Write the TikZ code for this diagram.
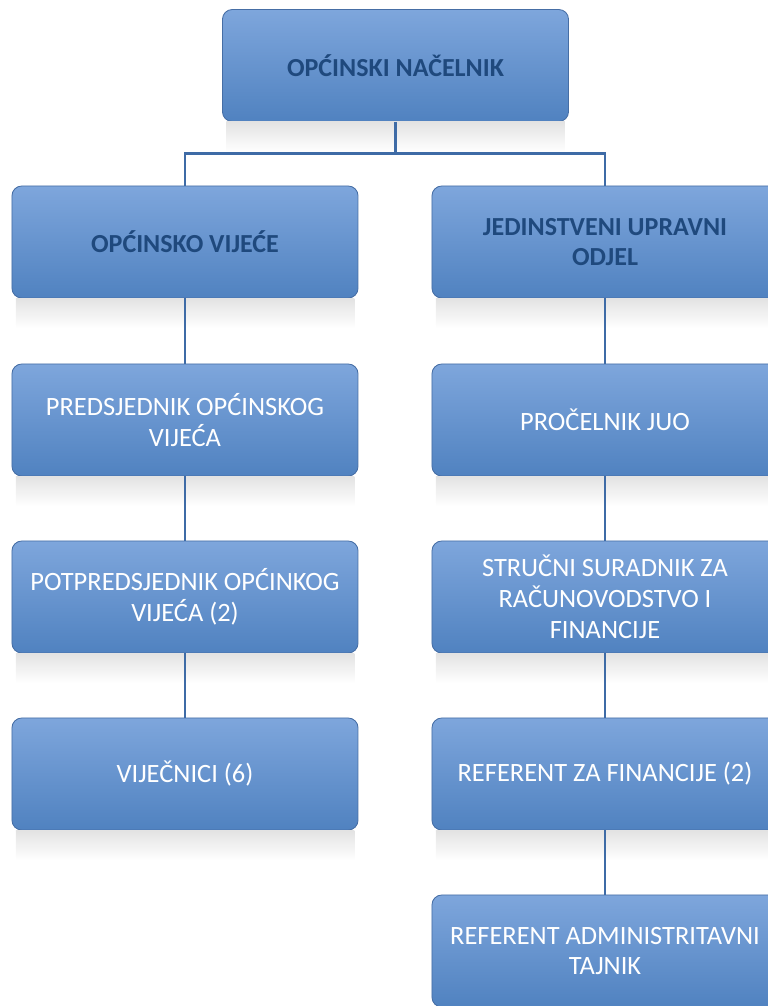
\documentclass[tikz,border=0pt]{standalone}
\usepackage{fontspec}
\setmainfont{Carlito}
\usepackage{tikz}
\usetikzlibrary{positioning, calc, shadows}
\usepackage{xcolor}

\definecolor{boxtop}{RGB}{126,166,220}
\definecolor{boxbot}{RGB}{80,130,192}
\definecolor{boxedge}{RGB}{70,110,165}
\definecolor{linkblue}{RGB}{62,107,166}
\definecolor{headtext}{RGB}{31,73,125}

\begin{document}
\begin{tikzpicture}[
  x=0.025cm, y=-0.025cm,
  unit/.style={rectangle, rounded corners=7pt, draw=boxedge, line width=0.6pt,
               top color=boxtop, bottom color=boxbot,
               minimum width=8.65cm, minimum height=2.8cm,
               align=center, font=\fontsize{18.8}{22}\selectfont, text=white},
  head/.style={unit, font=\fontsize{18.5}{21.5}\selectfont\bfseries, text=headtext},
  link/.style={draw=linkblue, line width=2.1pt},
  mirror/.style={top color=black!11, bottom color=white, draw=none}
]
  \def\xL{185} \def\xR{605}
  \useasboundingbox (0,0) rectangle (768,1006);
  \clip (0,0) rectangle (768,1006);

  %--- boxes ---
  \node[head] (nacelnik) at (395.5,65.5) {OPĆINSKI NAČELNIK};

  \node[head] (vijece) at (\xL,242) {OPĆINSKO VIJEĆE};
  \node[unit] (predsj) at (\xL,420) {PREDSJEDNIK OPĆINSKOG\\VIJEĆA};
  \node[unit] (potpred) at (\xL,597) {POTPREDSJEDNIK OPĆINKOG\\VIJEĆA (2)};
  \node[unit] (vijecnici) at (\xL,774) {VIJEČNICI (6)};

  \node[head] (juo) at (\xR,242) {JEDINSTVENI UPRAVNI\\ODJEL};
  \node[unit] (procelnik) at (\xR,420) {PROČELNIK JUO};
  \node[unit] (suradnik) at (\xR,597) {STRUČNI SURADNIK ZA\\RAČUNOVODSTVO I\\FINANCIJE};
  \node[unit] (reffin) at (\xR,774) {REFERENT ZA FINANCIJE (2)};
  \node[unit] (refadm) at (\xR,951) {REFERENT ADMINISTRITAVNI\\TAJNIK};

  %--- reflections ---
  \foreach \n in {nacelnik,vijece,predsj,potpred,vijecnici,juo,procelnik,suradnik,reffin}
    \shade[mirror] ([xshift=3pt]\n.south west) rectangle ([xshift=-3pt,yshift=-0.75cm]\n.south east);

  %--- connectors ---
  \draw[link] (nacelnik.south) -- ++(0,32) -| (vijece.north);
  \draw[link] (nacelnik.south) -- ++(0,32) -| (juo.north);
  \draw[link] (vijece) -- (predsj);
  \draw[link] (predsj) -- (potpred);
  \draw[link] (potpred) -- (vijecnici);
  \draw[link] (juo) -- (procelnik);
  \draw[link] (procelnik) -- (suradnik);
  \draw[link] (suradnik) -- (reffin);
  \draw[link] (reffin) -- (refadm);
\end{tikzpicture}
\end{document}
